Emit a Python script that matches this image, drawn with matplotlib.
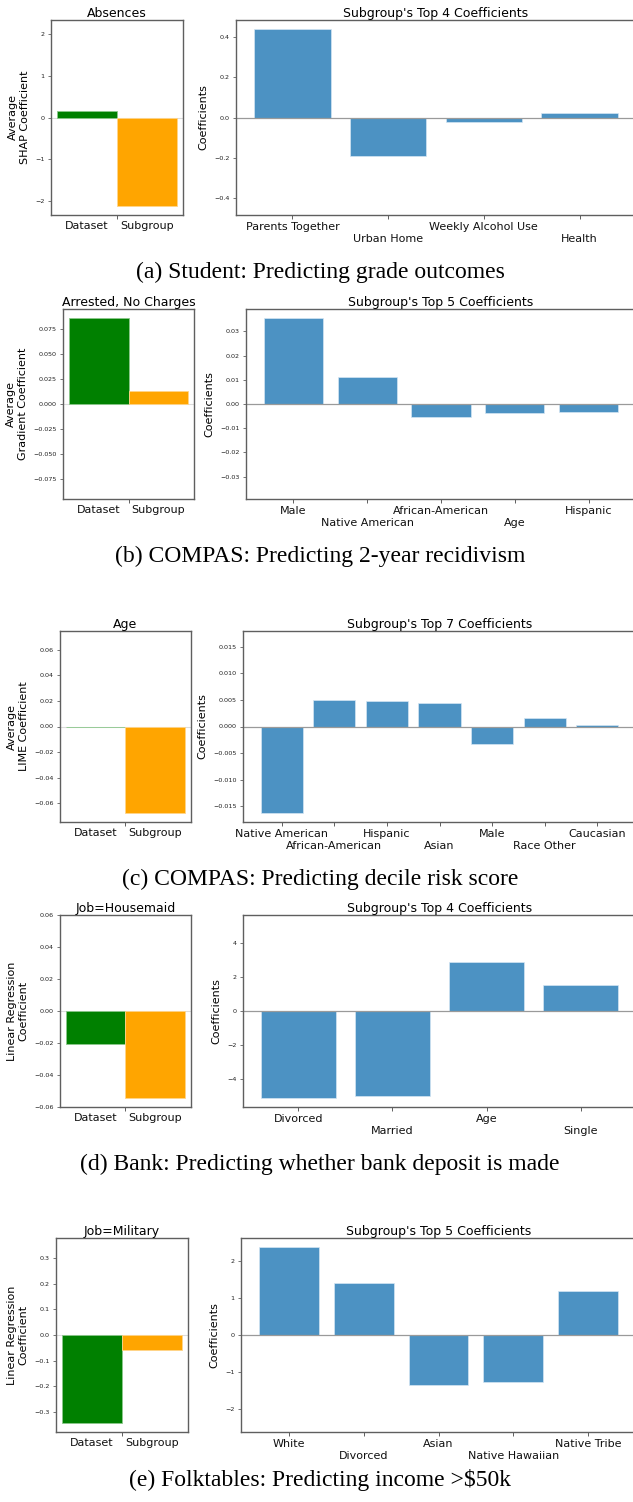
import matplotlib
matplotlib.use("Agg")
import matplotlib.pyplot as plt
from matplotlib.ticker import MultipleLocator

# Font setup: sans for the plots, Times-like serif for the captions
matplotlib.rcParams['font.family'] = 'DejaVu Sans'
matplotlib.rcParams['axes.edgecolor'] = '#5f5f5f'
matplotlib.rcParams['axes.linewidth'] = 1.0
matplotlib.rcParams['xtick.color'] = '#5f5f5f'
matplotlib.rcParams['ytick.color'] = '#5f5f5f'
matplotlib.rcParams['xtick.labelcolor'] = '#111111'
matplotlib.rcParams['ytick.labelcolor'] = '#222222'

W, H = 633, 1502

# ---- data ----
groups = ["Dataset", "Subgroup"]

a_feature = "Absences"
a_avg = [0.15, -2.12]
a_cats = ["Parents Together", "Urban Home", "Weekly Alcohol Use", "Health"]
a_coef = [0.44, -0.19, -0.023, 0.023]

b_feature = "Arrested, No Charges"
b_avg = [0.0863, 0.013]
b_cats = ["Male", "Native American", "African-American", "Age", "Hispanic"]
b_coef = [0.0357, 0.0113, -0.0055, -0.0037, -0.0033]

c_feature = "Age"
c_avg = [-0.0006, -0.0678]
c_cats = ["Native American", "African-American", "Hispanic", "Asian",
          "Male", "Race Other", "Caucasian"]
c_coef = [-0.0163, 0.0050, 0.0048, 0.0045, -0.0032, 0.0016, 0.0002]

d_feature = "Job=Housemaid"
d_avg = [-0.0206, -0.0546]
d_cats = ["Divorced", "Married", "Age", "Single"]
d_coef = [-5.11, -4.99, 2.86, 1.51]

e_feature = "Job=Military"
e_avg = [-0.345, -0.059]
e_cats = ["White", "Divorced", "Asian", "Native Hawaiian", "Native Tribe"]
e_coef = [2.38, 1.40, -1.36, -1.28, 1.19]

ylabels = ["Average\nSHAP Coefficient", "Average\nGradient Coefficient",
           "Average\nLIME Coefficient", "Linear Regression\nCoefficient",
           "Linear Regression\nCoefficient"]
captions = ["(a) Student: Predicting grade outcomes",
            "(b) COMPAS: Predicting 2-year recidivism",
            "(c) COMPAS: Predicting decile risk score",
            "(d) Bank: Predicting whether bank deposit is made",
            "(e) Folktables: Predicting income >$50k"]

# ---- layout (pixel boxes: left, top, right, bottom) ----
panels = [
    dict(feat=a_feature, avg=a_avg, cats=a_cats, coef=a_coef,
         left=(51, 20, 183, 215), right=(236, 20, 636, 215), cap_y=272,
         lstep=1, lfmt='%d', rstep=0.2, rfmt='%.1f'),
    dict(feat=b_feature, avg=b_avg, cats=b_cats, coef=b_coef,
         left=(63, 309, 194, 499), right=(246, 309, 636, 499), cap_y=556,
         lstep=0.025, lfmt='%.3f', rstep=0.01, rfmt='%.2f'),
    dict(feat=c_feature, avg=c_avg, cats=c_cats, coef=c_coef,
         left=(60, 631, 191, 822), right=(243, 631, 636, 822), cap_y=879,
         lstep=0.02, lfmt='%.2f', rstep=0.005, rfmt='%.3f'),
    dict(feat=d_feature, avg=d_avg, cats=d_cats, coef=d_coef,
         left=(60, 915, 191, 1107), right=(243, 915, 636, 1107), cap_y=1164,
         lstep=0.02, lfmt='%.2f', rstep=2, rfmt='%d'),
    dict(feat=e_feature, avg=e_avg, cats=e_cats, coef=e_coef,
         left=(56, 1238, 188, 1432), right=(241, 1238, 636, 1432), cap_y=1480,
         lstep=0.1, lfmt='%.1f', rstep=1, rfmt='%d'),
]


def box(x0, y0, x1, y1):
    return [x0 / W, 1 - y1 / H, (x1 - x0) / W, (y1 - y0) / H]


def minus(fmt):
    # unicode minus like matplotlib's default formatter
    return lambda v, pos: (fmt % v).replace('-', '\u2212')


fig = plt.figure(figsize=(W / 100, H / 100), dpi=100)

for i, p in enumerate(panels):
    # left: dataset vs subgroup average for one feature
    ax = fig.add_axes(box(*p['left']))
    ax.bar([0, 1], p['avg'], width=1.0, color=['green', 'orange'],
           edgecolor=['#8cc88c', '#ffd58a'], linewidth=0.6)
    ax.axhline(0, color='#dcdcdc', lw=0.8, zorder=0.5)
    lim = 1.1 * max(abs(v) for v in p['avg'])
    ax.set_ylim(-lim, lim)
    ax.set_xticks([0, 1], groups, fontsize=8)
    ax.set_xticks([0.5], minor=True)
    ax.tick_params(axis='x', which='major', length=0, pad=4)
    ax.tick_params(axis='x', which='minor', length=3, width=0.7)
    ax.yaxis.set_major_locator(MultipleLocator(p['lstep']))
    ax.yaxis.set_major_formatter(minus(p['lfmt']))
    ax.tick_params(axis='y', labelsize=4.6, length=2.5, width=0.6, pad=2)
    ax.set_ylabel(ylabels[i], fontsize=8, labelpad=4)
    ax.set_title(p['feat'], fontsize=9, pad=2)

    # right: subgroup's top coefficients, labels staggered on two rows
    ax2 = fig.add_axes(box(*p['right']))
    n = len(p['cats'])
    xs = list(range(n))
    ax2.bar(xs, p['coef'], width=0.8, color='#1f77b4', alpha=0.8,
            edgecolor='#d6e6f3', linewidth=0.6)
    ax2.axhline(0, color='#9a9a9a', lw=0.9)
    lim2 = 1.1 * max(abs(v) for v in p['coef'])
    ax2.set_ylim(-lim2, lim2)
    ax2.set_xticks(xs[0::2], p['cats'][0::2], fontsize=8)
    ax2.set_xticks(xs[1::2], p['cats'][1::2], fontsize=8, minor=True)
    ax2.tick_params(axis='x', which='major', length=3, width=0.7, pad=2)
    ax2.tick_params(axis='x', which='minor', length=3, width=0.7, pad=10.5)
    ax2.yaxis.set_major_locator(MultipleLocator(p['rstep']))
    ax2.yaxis.set_major_formatter(minus(p['rfmt']))
    ax2.tick_params(axis='y', labelsize=4.6, length=2.5, width=0.6, pad=2)
    ax2.set_ylabel("Coefficients", fontsize=8, labelpad=4)
    ax2.set_title("Subgroup's Top %d Coefficients" % n, fontsize=9, pad=2)

    fig.text(320 / W, 1 - p['cap_y'] / H, captions[i], ha='center',
             va='center', fontsize=17, family='Liberation Serif')

fig.savefig("out.png", dpi=100)
